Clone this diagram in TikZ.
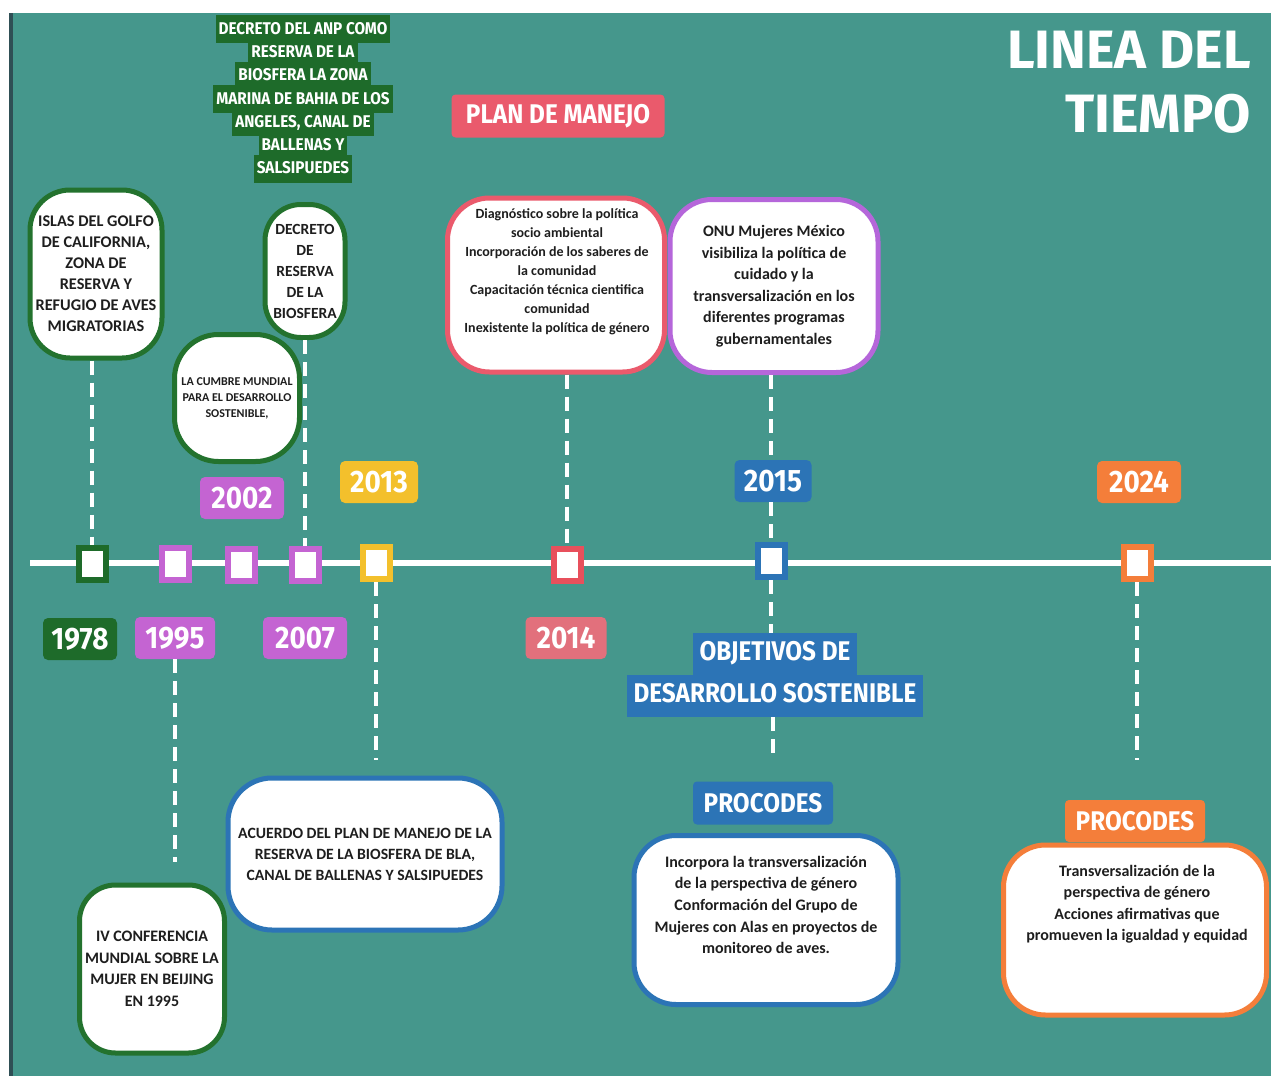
\documentclass[tikz,border=0pt]{standalone}
\usepackage{fontspec}
\newfontfamily\boxfont{Carlito}
\newfontfamily\handfont[FakeStretch=0.9]{Fira Sans}
\newfontfamily\titlefont{Fira Sans}
\definecolor{bgteal}{HTML}{45978C}
\definecolor{edgedark}{HTML}{2F4F55}
\definecolor{dkgreen}{HTML}{1E6B2A}
\definecolor{boxgreen}{HTML}{23722E}
\definecolor{purp}{HTML}{C464D2}
\definecolor{purpbox}{HTML}{B566DA}
\definecolor{yel}{HTML}{F3C02C}
\definecolor{redm}{HTML}{E8505C}
\definecolor{pinkl}{HTML}{E2707C}
\definecolor{planred}{HTML}{EA5A6C}
\definecolor{blu}{HTML}{2C74B6}
\definecolor{orng}{HTML}{F47E3A}
\definecolor{txtdark}{HTML}{1E1E1E}
\newcommand\hlbox[5]{{\setlength{\fboxsep}{#2}\colorbox{#1}{\rule[-#3]{0pt}{#4}#5}}}
\newcommand\anprow[1]{\raisebox{0pt}[12pt][4pt]{\hlbox{dkgreen}{3pt}{6pt}{22pt}{#1}}}
\tikzset{
  evbox/.style={draw=#1, line width=5pt, fill=white, rounded corners=38pt, align=center,
    text=txtdark, inner sep=0pt},
  boxtxt/.style={align=center, text=txtdark, inner sep=0pt},
  yearlbl/.style={fill=#1, rounded corners=5pt, text=white,
    font=\handfont\bfseries\fontsize{31}{31}\selectfont, minimum height=42pt, inner sep=0pt},
  tlmark/.style={draw=#1, fill=white, line width=6pt, minimum width=27pt, minimum height=32pt, inner sep=0pt},
  tagbox/.style={fill=#1, rounded corners=4pt, text=white,
    font=\handfont\bfseries\fontsize{27}{27}\selectfont, inner sep=0pt},
  dashline/.style={draw=white, line width=4pt, dash pattern=on 14pt off 8pt},
}
\begin{document}
\begin{tikzpicture}[x=1pt,y=-1pt]
\useasboundingbox (0,0) rectangle (1271,1076);
\fill[white] (0,0) rectangle (1271,1076);
\fill[bgteal] (10,13) rectangle (1271,1076);
\fill[edgedark] (9,13) rectangle (13,1076);

% title
\node[anchor=north east, align=right, text=white, inner sep=0pt,
  font=\titlefont\bfseries\fontsize{54}{64}\selectfont] (title) at (1251,31) {LINEA DEL\\TIEMPO};

% timeline
\coordinate (tlA) at (30,563);
\coordinate (tlB) at (1271,563);
\draw[white, line width=6pt] (tlA) -- (tlB);

% markers
\node[tlmark=dkgreen] (m1978) at (92,564) {};
\node[tlmark=purp] (m1995) at (175,564) {};
\node[tlmark=purp] (m2002) at (241,565) {};
\node[tlmark=purp] (m2007) at (305,565) {};
\node[tlmark=yel] (m2013) at (376,563) {};
\node[tlmark=redm] (m2014) at (567,565) {};
\node[tlmark=blu] (m2015) at (771,561) {};
\node[tlmark=orng] (m2024) at (1137,563) {};

% year labels
\node[yearlbl=dkgreen, minimum width=74pt] (y1978) at (80,639) {1978};
\node[yearlbl=purp, minimum width=80pt] (y1995) at (175,638) {1995};
\node[yearlbl=purp, minimum width=84pt] (y2007) at (305,638) {2007};
\node[yearlbl=pinkl, minimum width=81pt] (y2014) at (566,638) {2014};
\node[yearlbl=purp, minimum width=84pt] (y2002) at (242,498) {2002};
\node[yearlbl=yel, minimum width=78pt] (y2013) at (379,482) {2013};
\node[yearlbl=blu, minimum width=77pt] (y2015) at (773,481) {2015};
\node[yearlbl=orng, minimum width=84pt] (y2024) at (1139,482) {2024};

% green ANP tag
\node[align=center, text=white, inner sep=0pt,
  font=\handfont\bfseries\fontsize{17}{23.3}\selectfont] (anptag) at (303,100)
  {\anprow{DECRETO DEL ANP COMO}\\
   \anprow{RESERVA DE LA}\\
   \anprow{BIOSFERA LA ZONA}\\
   \anprow{MARINA DE BAHIA DE LOS}\\
   \anprow{ANGELES, CANAL DE}\\
   \anprow{BALLENAS Y}\\
   \anprow{SALSIPUEDES}};

% green boxes
\node[evbox=boxgreen, minimum width=132pt, minimum height=168pt, rounded corners=40pt,
  font=\boxfont\bfseries\fontsize{16.3}{21}\selectfont] (islas) at (96,274)
  {ISLAS DEL GOLFO\\DE CALIFORNIA,\\ZONA DE\\RESERVA Y\\REFUGIO DE AVES\\MIGRATORIAS};
\node[evbox=boxgreen, minimum width=80pt, minimum height=133pt, rounded corners=36pt,
  font=\boxfont\bfseries\fontsize{15.5}{21}\selectfont] (decreto) at (305,271)
  {DECRETO\\DE\\RESERVA\\DE LA\\BIOSFERA};
\node[evbox=boxgreen, minimum width=125pt, minimum height=127pt, rounded corners=44pt,
  font=\boxfont\bfseries\fontsize{12}{16}\selectfont] (cumbre) at (237,398)
  {LA CUMBRE MUNDIAL\\PARA EL DESARROLLO\\SOSTENIBLE,};
\node[evbox=boxgreen, minimum width=145pt, minimum height=168pt, rounded corners=36pt,
  font=\boxfont\bfseries\fontsize{16}{21.5}\selectfont] (beijing) at (152,969)
  {IV CONFERENCIA\\MUNDIAL SOBRE LA\\MUJER EN BEIJING\\EN 1995};

% plan de manejo
\node[tagbox=planred, minimum width=213pt, minimum height=43pt] (plantag) at (558,116) {PLAN DE MANEJO};
\node[evbox=planred, minimum width=217pt, minimum height=174pt, rounded corners=42pt] (plan) at (556,285) {};
\node[boxtxt, font=\boxfont\bfseries\fontsize{14}{19}\selectfont] (plantxt) at (557,272)
  {Diagnóstico sobre la política\\socio ambiental\\Incorporación de los saberes de\\la comunidad\\Capacitación técnica cientifica\\comunidad\\Inexistente la política de género};

% ONU
\node[evbox=purpbox, minimum width=208pt, minimum height=173pt, rounded corners=42pt,
  font=\boxfont\bfseries\fontsize{16}{21.5}\selectfont] (onu) at (774,286)
  {ONU Mujeres México\\visibiliza la política de\\cuidado y la\\transversalización en los\\diferentes programas\\gubernamentales};

% ODS tag
\node[align=center, text=white, inner sep=0pt,
  font=\handfont\bfseries\fontsize{27}{42}\selectfont] (ods) at (775,675)
  {\hlbox{blu}{7pt}{8pt}{28pt}{OBJETIVOS DE}\\
   \hlbox{blu}{7pt}{8pt}{28pt}{DESARROLLO SOSTENIBLE}};

% acuerdo
\node[evbox=blu, minimum width=274pt, minimum height=152pt, rounded corners=44pt,
  font=\boxfont\bfseries\fontsize{15.7}{21}\selectfont] (acuerdo) at (365,854)
  {ACUERDO DEL PLAN DE MANEJO DE LA\\RESERVA DE LA BIOSFERA DE BLA,\\CANAL DE BALLENAS Y SALSIPUEDES};

% PROCODES blue
\node[tagbox=blu, minimum width=140pt, minimum height=43pt] (proc1) at (763,803) {PROCODES};
\node[evbox=blu, minimum width=264pt, minimum height=169pt, rounded corners=42pt] (procbox1) at (766,920) {};
\node[boxtxt, font=\boxfont\bfseries\fontsize{16}{21.7}\selectfont] (proctxt1) at (766,905)
  {Incorpora la transversalización\\de la perspectiva de género\\Conformación del Grupo de\\Mujeres con Alas en proyectos de\\monitoreo de aves.};

% PROCODES orange
\node[tagbox=orng, minimum width=140pt, minimum height=42pt] (proc2) at (1135,821) {PROCODES};
\node[evbox=orng, minimum width=263pt, minimum height=170pt, rounded corners=42pt] (procbox2) at (1135,930) {};
\node[boxtxt, font=\boxfont\bfseries\fontsize{16}{21.5}\selectfont] (proctxt2) at (1137,904)
  {Transversalización de la\\perspectiva de género\\Acciones afirmativas que\\promueven la igualdad y equidad};

% connectors
\coordinate (e1995) at (175,862);
\coordinate (e2013) at (376,760);
\coordinate (e2015) at (773,760);
\coordinate (e2024) at (1137,760);
\draw[dashline] (m1978 |- islas.south) -- (m1978.north);
\draw[dashline] (decreto.south) -- (m2007.north);
\draw[dashline] (y1995.south) -- (e1995);
\draw[dashline] (m2013.south) -- (e2013);
\draw[dashline] (m2014 |- plan.south) -- (m2014.north);
\draw[dashline] (m2015 |- onu.south) -- (m2015 |- y2015.north);
\draw[dashline] (y2015.south -| m2015) -- (m2015.north);
\draw[dashline] (m2015.south) -- (m2015 |- ods.north);
\draw[dashline] (ods.south -| e2015) -- (e2015);
\draw[dashline] (m2024.south) -- (e2024);
\end{tikzpicture}
\end{document}
